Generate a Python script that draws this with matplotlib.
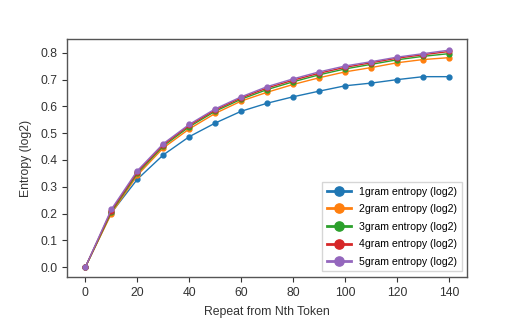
import numpy as np
import matplotlib.pyplot as plt

# datos
repeat_n = [0, 10, 20, 30, 40, 50, 60, 70, 80, 90, 100, 110, 120, 130, 140]

gram1 = [0.0, 0.203, 0.328, 0.419, 0.487, 0.538, 0.582, 0.612, 0.636, 0.657, 0.677, 0.687, 0.700, 0.711, 0.711]
gram2 = [0.0, 0.200, 0.343, 0.445, 0.516, 0.574, 0.620, 0.653, 0.682, 0.707, 0.729, 0.745, 0.763, 0.775, 0.782]
gram3 = [0.0, 0.206, 0.350, 0.452, 0.524, 0.582, 0.627, 0.663, 0.692, 0.718, 0.740, 0.757, 0.774, 0.787, 0.797]
gram4 = [0.0, 0.211, 0.355, 0.457, 0.529, 0.587, 0.632, 0.669, 0.698, 0.724, 0.746, 0.763, 0.780, 0.793, 0.805]
gram5 = [0.0, 0.216, 0.360, 0.461, 0.533, 0.591, 0.636, 0.674, 0.703, 0.729, 0.751, 0.767, 0.784, 0.797, 0.810]

series = [gram1, gram2, gram3, gram4, gram5]
labels = [f"{i}gram entropy (log2)" for i in range(1, 6)]

plt.rcParams['font.family'] = ['Liberation Sans', 'DejaVu Sans']

fig = plt.figure(figsize=(5.21, 3.27), dpi=100)
ax = fig.add_axes([0.129, 0.153, 0.768, 0.728])

for vals, lab in zip(series, labels):
    ax.plot(repeat_n, vals, marker='o', markersize=3.5, linewidth=1.0, label=lab)

ax.set_xlabel('Repeat from Nth Token', fontsize=8.8, color='#333333', labelpad=5)
ax.set_ylabel('Entropy (log2)', fontsize=8.8, color='#333333', labelpad=6)
ax.set_xticks(np.arange(0, 141, 20))
ax.set_yticks(np.arange(0, 0.81, 0.1))
ax.set_xlim(-7, 147)
ax.set_ylim(-0.037, 0.852)
ax.tick_params(labelsize=8.7, colors='#333333', direction='out', length=3.5, width=0.8)
for s in ax.spines.values():
    s.set_color('#555555')
    s.set_linewidth(1.0)

leg = ax.legend(loc='lower right', fontsize=7.6, markerscale=1.9, handlelength=2.3,
                fancybox=False, edgecolor='#cccccc', borderaxespad=0.55, labelspacing=0.72)
for h in leg.get_lines():
    h.set_linewidth(2.0)

fig.savefig('out.png', dpi=100)
